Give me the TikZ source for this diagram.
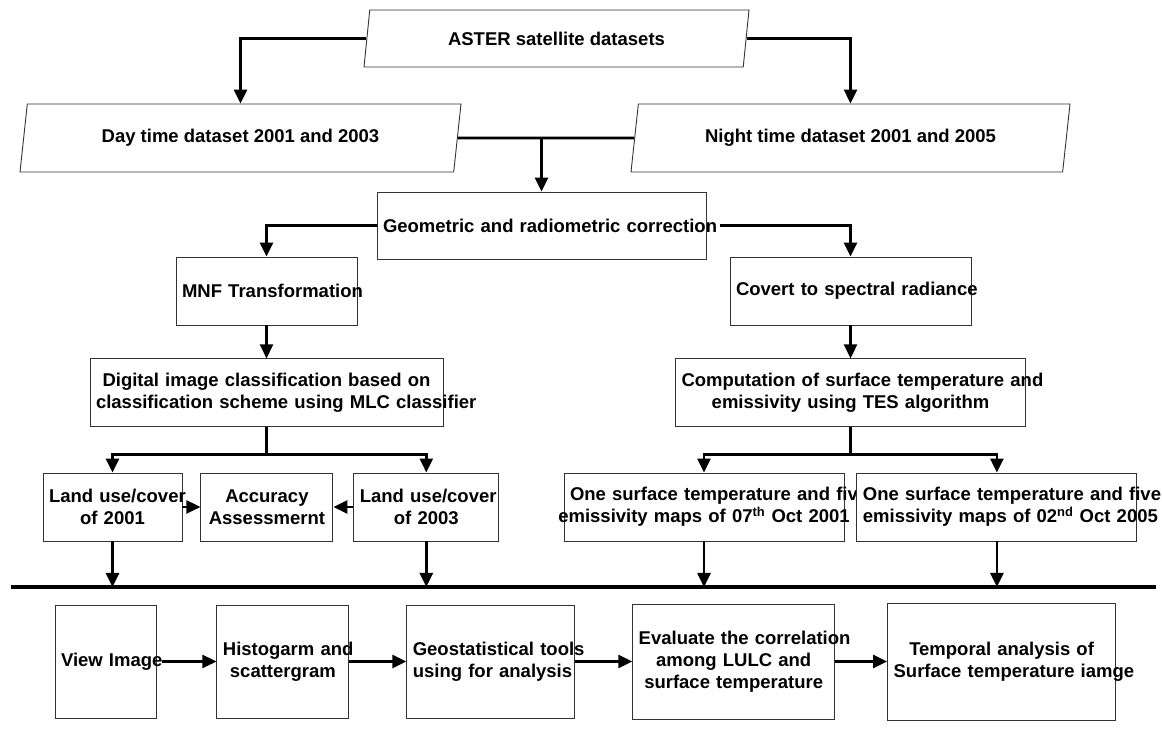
\documentclass[tikz,border=0pt]{standalone}
\usepackage{fontspec}
\setmainfont{Liberation Sans}
\usetikzlibrary{shapes.geometric}
\usetikzlibrary{arrows.meta}
\usetikzlibrary{positioning}

\begin{document}
\begin{tikzpicture}[x=1pt, y=1pt,
  every node/.style={font=\bfseries\fontsize{18.5}{22}\selectfont},
  box/.style={draw=black!80, line width=0.9pt, fill=white, align=center,
    inner xsep=6pt, inner ysep=0pt, minimum height=68pt},
  data/.style={draw=black!80, line width=0.9pt, fill=white, trapezium,
    trapezium left angle=67, trapezium right angle=113,
    trapezium stretches body=true, inner sep=0pt, minimum height=68pt},
  link/.style={line width=2.6pt},
  arr/.style={link, -{Triangle[length=14pt, width=13pt]}},
  node distance=33pt and 57pt
]
\useasboundingbox (0,0) rectangle (1162,733);

% input data
\node[data, minimum width=385pt, minimum height=57pt] (aster) at (556.5,694.5) {ASTER satellite datasets};
\node[data, minimum width=441pt] (day) at (240.5,595) {Day time dataset 2001 and 2003};
\node[data, minimum width=439pt] (night) at (850.5,595) {Night time dataset 2001 and 2005};
\node[box, text width=317pt, minimum height=67pt] (geo) at (541.5,507.5) {\mbox{Geometric and radiometric correction}};

% left branch
\node[box, text width=169pt] (mnf) at (266.5,442) {\mbox{MNF Transformation}};
\node[box, text width=341pt, below=of mnf] (dig) {\mbox{Digital image classification based on}\\\mbox{classification scheme using MLC classifier}};
\node[box, text width=127pt] (lu1) at (112.5,226) {\mbox{Land use/cover}\\\mbox{of 2001}};
\node[box, text width=120pt, right=18pt of lu1] (acc) {\mbox{Accuracy}\\\mbox{Assessmernt}};
\node[box, text width=133pt, right=20pt of acc] (lu2) {\mbox{Land use/cover}\\\mbox{of 2003}};

% right branch
\node[box, text width=229pt] (cov) at (850.5,442) {\mbox{Covert to spectral radiance}};
\node[box, text width=338pt, below=of cov] (comp) {\mbox{Computation of surface temperature and}\\\mbox{emissivity using TES algorithm}};
\node[box, text width=268pt] (os1) at (704,226) {\mbox{One surface temperature and five}\\\makebox[\linewidth]{emissivity maps of 07\textsuperscript{th} Oct 2001}};
\node[box, text width=268pt, right=12pt of os1] (os2) {\mbox{One surface temperature and five}\\\mbox{emissivity maps of 02\textsuperscript{nd} Oct 2005}};

% analysis
\node[box, text width=89pt, minimum height=113pt] (view) at (105.5,71.5) {\mbox{View Image}};
\node[box, text width=120pt, minimum height=113pt, right=60pt of view] (hist) {\mbox{Histogarm and}\\\mbox{scattergram}};
\node[box, text width=156pt, minimum height=113pt, right=of hist] (geost) {\mbox{Geostatistical tools}\\\mbox{using for analysis}};
\node[box, text width=190pt, minimum height=115pt, right=of geost] (eval) {\mbox{Evaluate the correlation}\\\mbox{among LULC and}\\\mbox{surface temperature}};
\node[box, text width=216pt, minimum height=117pt, right=52pt of eval] (temp) {\mbox{Temporal analysis of}\\\mbox{Surface temperature iamge}};

\coordinate (bl) at (11,146);
\coordinate (br) at (1156,146);
\draw[line width=4.5pt] (bl) -- (br);

\draw[arr] (aster.west) -| (day.north);
\draw[arr] (aster.east) -| (night.north);
\draw[link] (day.east) -- (night.west);
\draw[arr] (day.east -| geo.north) -- (geo.north);
\draw[arr] (geo.west) -| (mnf.north);
\draw[arr] ([xshift=14pt]geo.east) -| (cov.north);
\draw[arr] (mnf.south) -- (dig.north);
\draw[arr] (cov.south) -- (comp.north);

\draw[link] (dig.south) -- ++(0,-27) coordinate (dj);
\draw[arr] (dj) -| (lu1.north);
\draw[arr] (dj) -| (lu2.north);
\draw[link] (comp.south) -- ++(0,-27) coordinate (cj);
\draw[arr] (cj) -| (os1.north);
\draw[arr] (cj) -| (os2.north);
\draw[arr] (lu1.east) -- (acc.west);
\draw[arr] (lu2.west) -- (acc.east);

\foreach \n in {lu1,lu2,os1,os2}
  \draw[arr] (\n.south) -- (\n.south |- bl);

\draw[arr] ([xshift=6pt]view.east) -- (hist.west);
\draw[arr] (hist.east) -- (geost.west);
\draw[arr] (geost.east) -- (eval.west);
\draw[arr] (eval.east) -- (temp.west);
\end{tikzpicture}
\end{document}
